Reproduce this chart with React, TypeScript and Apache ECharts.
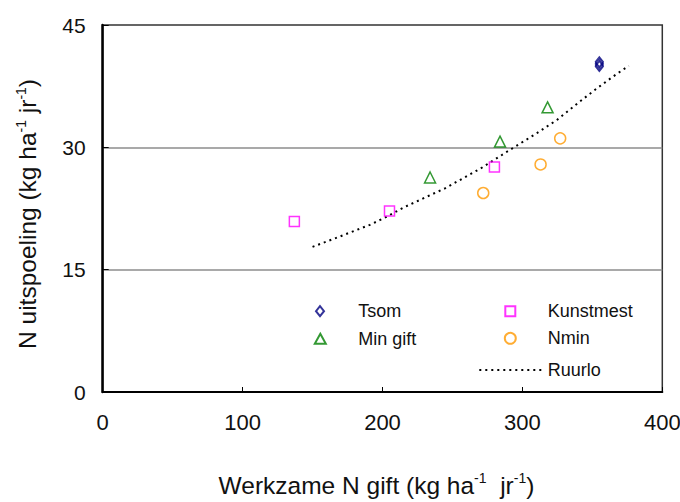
import React, { useEffect, useRef } from "react";
import * as echarts from "echarts";

// Measured N leaching against effective N application
const tsomX = [355, 355, 355, 355];
const tsomY = [39.9, 40.1, 40.3, 40.5];
const kunstmestX = [137, 205, 280];
const kunstmestY = [20.9, 22.2, 27.6];
const minGiftX = [234, 284, 318];
const minGiftY = [26.3, 30.7, 34.9];
const nminX = [272, 313, 327];
const nminY = [24.4, 27.9, 31.1];
// Ruurlo model curve
const ruurloX = [150, 170, 191, 202, 216, 245, 270, 294, 310, 325, 341, 353, 365, 376];
const ruurloY = [17.8, 19.1, 20.5, 21.4, 22.7, 25.0, 27.4, 30.0, 31.7, 33.4, 35.6, 37.2, 38.7, 40.0];

const xMin = 0;
const xMax = 400;
const xStep = 100;
const yMin = 0;
const yMax = 45;
const yStep = 15;

const FONT = "'Liberation Sans', Arial, sans-serif";

const zip = (xs: number[], ys: number[]) => xs.map((x, i) => [x, ys[i]]);

const markerSeries = (
  name: string,
  xs: number[],
  ys: number[],
  symbol: string,
  color: string,
  size: number | number[],
  border = 1.5
) => ({
  name,
  type: "scatter",
  data: zip(xs, ys),
  symbol,
  symbolSize: size,
  itemStyle: { color: "rgba(255,255,255,0)", borderColor: color, borderWidth: border },
  z: 3,
});

const legendItem = (
  name: string,
  left: number,
  top: number,
  w: number,
  h: number,
  gap: number,
  extra: Record<string, unknown> = {}
) => ({
  data: [name],
  left,
  top,
  orient: "horizontal",
  itemWidth: w,
  itemHeight: h,
  padding: 0,
  selectedMode: false,
  textStyle: {
    fontFamily: FONT,
    fontSize: 18,
    color: "#111",
    lineHeight: h,
    padding: [0, 0, 0, gap],
  },
  ...extra,
});

export default function App() {
  const ref = useRef<HTMLDivElement>(null);

  useEffect(() => {
    if (!ref.current) return;
    const chart = echarts.init(ref.current, undefined, { renderer: "svg" });
    const supRich = {
      sup: { fontFamily: FONT, fontSize: 14, verticalAlign: "top", lineHeight: 14, color: "#111" },
    };
    chart.setOption({
      animation: false,
      backgroundColor: "#fff",
      grid: {
        left: 102.7,
        right: 17.7,
        top: 25,
        bottom: 110,
        outerBoundsMode: "none",
        containLabel: false,
        show: true,
        borderColor: "#333",
        borderWidth: 1.5,
        backgroundColor: "transparent",
      },
      xAxis: {
        type: "value",
        min: xMin,
        max: xMax,
        interval: xStep,
        axisLine: { show: true, lineStyle: { color: "#000", width: 2 } },
        axisTick: { show: true, inside: true, length: 5, lineStyle: { color: "#000", width: 1 } },
        axisLabel: { fontFamily: FONT, fontSize: 22, color: "#111", margin: 19 },
        splitLine: { show: false },
        name: "Werkzame N gift (kg ha{sup|-1}  jr{sup|-1})",
        nameLocation: "middle",
        nameGap: 79,
        nameTextStyle: {
          fontFamily: FONT,
          fontSize: 24.5,
          color: "#111",
          lineHeight: 28,
          padding: [0, 12, 0, 0],
          rich: supRich,
        },
      },
      yAxis: {
        type: "value",
        min: yMin,
        max: yMax,
        interval: yStep,
        axisLine: { show: true, lineStyle: { color: "#000", width: 2.5 } },
        axisTick: { show: true, inside: true, length: 6, lineStyle: { color: "#000", width: 1 } },
        axisLabel: { fontFamily: FONT, fontSize: 21, color: "#111", margin: 17 },
        splitLine: {
          show: true,
          showMinLine: false,
          showMaxLine: false,
          lineStyle: { color: "#8c8c8c", width: 1.5 },
        },
        name: "N uitspoeling (kg ha{sup|-1} jr{sup|-1})",
        nameLocation: "middle",
        nameGap: 61,
        nameTextStyle: {
          fontFamily: FONT,
          fontSize: 24.5,
          color: "#111",
          lineHeight: 28,
          padding: [0, 11, 0, 0],
          rich: supRich,
        },
      },
      legend: [
        legendItem("Tsom", 315, 302.2, 8, 10, 29.3),
        legendItem("Min gift", 313.8, 329.8, 11, 10, 27.5),
        legendItem("Kunstmest", 504.3, 302.2, 10, 10, 27.4),
        legendItem("Nmin", 503.8, 329.3, 11, 11, 26.9),
        legendItem("Ruurlo", 478.3, 361, 63.4, 10, 0, {
          itemStyle: { opacity: 0 },
        }),
      ],
      series: [
        markerSeries("Tsom", tsomX, tsomY, "diamond", "#000080", [8, 10], 1.2),
        markerSeries("Kunstmest", kunstmestX, kunstmestY, "rect", "#ff00ff", 10),
        markerSeries("Min gift", minGiftX, minGiftY, "triangle", "#008000", 11),
        markerSeries("Nmin", nminX, nminY, "circle", "#ff9900", 11),
        {
          name: "Ruurlo",
          type: "line",
          data: zip(ruurloX, ruurloY),
          symbol: "none",
          showSymbol: false,
          itemStyle: { color: "#000" },
          lineStyle: { color: "#000", width: 2, type: [2, 4] },
          z: 2,
        },
      ],
    });
    return () => chart.dispose();
  }, []);

  return (
    <div
      ref={ref}
      style={{ position: "absolute", left: 0, top: 0, width: 680, height: 502 }}
    />
  );
}
